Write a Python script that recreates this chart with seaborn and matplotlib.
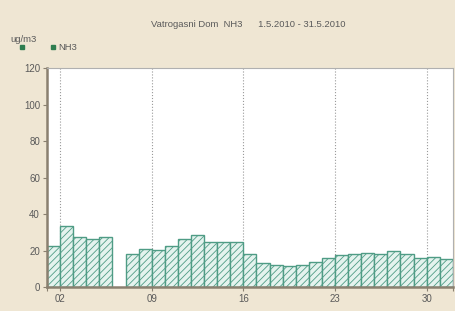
import numpy as np
import pandas as pd
import seaborn as sns
import matplotlib.pyplot as plt
from matplotlib.lines import Line2D

plt.rcParams['font.family'] = ['Liberation Sans', 'DejaVu Sans']
plt.rcParams['hatch.linewidth'] = 0.6

days = list(range(1, 32))
nh3 = [22.5, 33.6, 27.2, 26.5, 27.2, np.nan, 18.1, 20.6, 20.3, 22.3,
       26.5, 28.7, 24.6, 24.6, 24.6, 17.9, 13.0, 11.9, 11.7, 12.2,
       13.9, 16.1, 17.3, 17.9, 18.6, 17.9, 19.7, 17.9, 15.9, 16.6, 15.5]
tick_days = [2, 9, 16, 23, 30]
tick_labels = ["02", "09", "16", "23", "30"]

df = pd.DataFrame({"day": days, "NH3": nh3})
df["center"] = df["day"] + 0.5

bg = "#efe6d3"
edge = "#4f9c85"
face = "#e4f3ee"
txt = "#5a5a5a"

fig = plt.figure(figsize=(4.56, 3.11), dpi=100, facecolor=bg)
ax = fig.add_axes([0.103, 0.077, 0.890, 0.704])
ax.set_facecolor("white")

sns.barplot(data=df.dropna(), x="center", y="NH3", native_scale=True, width=1,
            color=face, edgecolor=edge, linewidth=1.0, hatch="/////",
            errorbar=None, ax=ax)
for p in ax.patches:
    p.set_facecolor(face)

ax.set_xlim(1, 32)
ax.set_ylim(0, 120)
ax.set_xticks(tick_days)
ax.set_xticklabels(tick_labels)
ax.set_xticks([1, 32], minor=True)
ax.set_yticks(range(0, 121, 20))
for d in tick_days:
    ax.axvline(d, color="#9a9a9a", linestyle=":", linewidth=0.8, zorder=0)
ax.set_xlabel("")
ax.set_ylabel("")
ax.tick_params(axis="both", which="both", labelsize=7, labelcolor=txt,
               color="#8a8070", length=3, width=0.8, pad=2)

for s in ["left", "bottom"]:
    ax.spines[s].set_color("#8a8070")
    ax.spines[s].set_linewidth(1.8)
for s in ["top", "right"]:
    ax.spines[s].set_color("#b0b0b0")
    ax.spines[s].set_linewidth(0.8)

fig.text(0.545, 0.922, "Vatrogasni Dom  NH3      1.5.2010 - 31.5.2010",
         ha="center", va="center", fontsize=6.8, color=txt)
fig.text(0.022, 0.874, "ug/m3", ha="left", va="center", fontsize=6.8, color=txt)
fig.text(0.128, 0.848, "NH3", ha="left", va="center", fontsize=6.8, color=txt)
for xx in [0.048, 0.117]:
    fig.add_artist(Line2D([xx], [0.848], marker="s", markersize=3.5,
                          color="#2e7d4f", transform=fig.transFigure))

plt.savefig("out.png", dpi=100, facecolor=bg)
